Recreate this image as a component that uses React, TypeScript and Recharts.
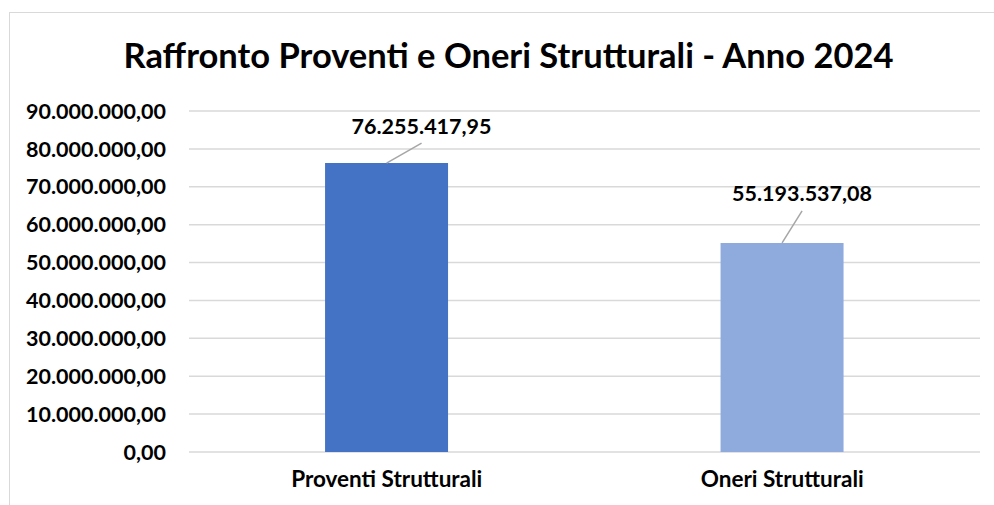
import React from 'react';
import { BarChart, Bar, XAxis, YAxis, CartesianGrid, Cell, LabelList } from 'recharts';

const categories = ['Proventi Strutturali', 'Oneri Strutturali'];
const values = [76255417.95, 55193537.08];
const barColors = ['#4472C4', '#8FAADC'];
const yTicks = [0, 10000000, 20000000, 30000000, 40000000, 50000000, 60000000, 70000000, 80000000, 90000000];

const FONT = 'Lato, "Noto Sans", sans-serif';

// moved labels, like in the original sheet
const labelShift = [
  { dx: 35, dy: -37 },
  { dx: 20, dy: -49 },
];

const fmt = (v: number) => {
  const [int, dec] = v.toFixed(2).split('.');
  return int.replace(/\B(?=(\d{3})+(?!\d))/g, '.') + ',' + dec;
};

const data = categories.map((name, i) => ({ name, value: values[i] }));

const ValueLabel = (props: any) => {
  const { x, y, width, value, index } = props;
  const s = labelShift[index] || { dx: 0, dy: -20 };
  const bx = Number(x) + Number(width) / 2;
  const by = Number(y);
  const tx = bx + s.dx;
  const ty = by + s.dy;
  return (
    <g>
      <line x1={bx} y1={by} x2={tx} y2={ty + 17} stroke="#A6A6A6" strokeWidth={1.5} />
      <text x={tx} y={ty} dy="0.35em" textAnchor="middle" fontFamily={FONT} fontWeight={700} fontSize={21.5} fill="#000">
        {fmt(Number(value))}
      </text>
    </g>
  );
};

const App: React.FC = () => {
  return (
    <div style={{ position: 'absolute', left: 0, top: 0, width: 994, height: 505, overflow: 'hidden', background: '#fff' }}>
      <div
        style={{
          position: 'absolute', left: 9, top: 12, width: 1000, height: 520,
          border: '1.5px solid #D9D9D9', boxSizing: 'border-box',
        }}
      />
      <div
        style={{
          position: 'absolute', left: 0, top: 33, width: 1017, textAlign: 'center',
          fontFamily: FONT, fontWeight: 700, fontSize: 34.5, color: '#000', lineHeight: '44px',
        }}
      >
        Raffronto Proventi e Oneri Strutturali - Anno 2024
      </div>
      <div style={{ position: 'absolute', left: 0, top: 0 }}>
        <BarChart width={994} height={505} data={data} margin={{ top: 111, right: 14, bottom: 0, left: 0 }} barCategoryGap="34.4%">
          <CartesianGrid vertical={false} stroke="#D9D9D9" strokeWidth={1.5} />
          <XAxis
            dataKey="name"
            axisLine={false}
            tickLine={false}
            height={53}
            tickMargin={13}
            tick={{ fontFamily: FONT, fontWeight: 700, fontSize: 22.5, fill: '#000' }}
          />
          <YAxis
            width={189}
            domain={[0, 90000000]}
            ticks={yTicks}
            interval={0}
            axisLine={false}
            tickLine={false}
            tickMargin={17}
            tickFormatter={fmt}
            tick={{ fontFamily: FONT, fontWeight: 700, fontSize: 21.5, fill: '#000' }}
          />
          <Bar dataKey="value" isAnimationActive={false}>
            {data.map((d, i) => (
              <Cell key={d.name} fill={barColors[i]} />
            ))}
            <LabelList dataKey="value" content={<ValueLabel />} />
          </Bar>
        </BarChart>
      </div>
    </div>
  );
};

export default App;
